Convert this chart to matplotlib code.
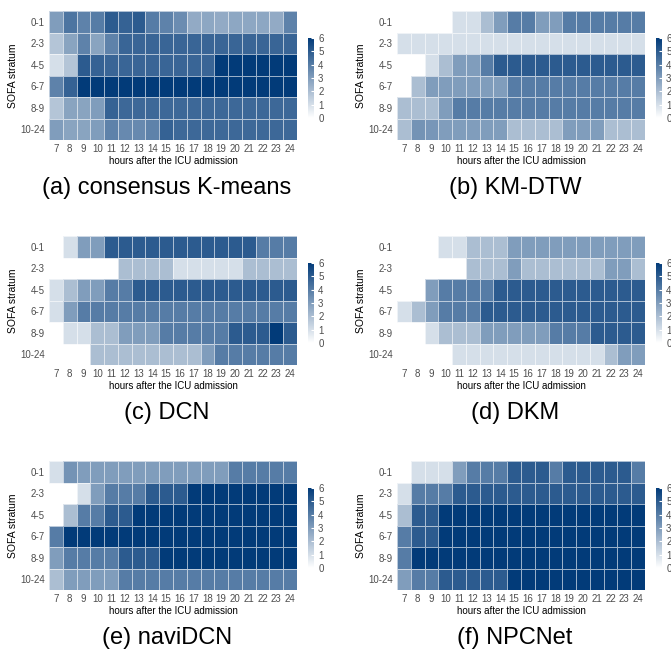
import numpy as np
import matplotlib
matplotlib.use("Agg")
import matplotlib.pyplot as plt
from matplotlib.colors import LinearSegmentedColormap, Normalize
from matplotlib.colorbar import ColorbarBase

plt.rcParams['font.family'] = ['Liberation Sans', 'DejaVu Sans']

hours = list(range(7, 25))
strata = ["0-1", "2-3", "4-5", "6-7", "8-9", "10-24"]
n = np.nan

kmeans = [
    [3.0, 4.2, 3.8, 4.0, 5.0, 4.8, 5.0, 4.0, 3.8, 3.5, 2.6, 2.7, 2.6, 2.7, 2.7, 2.7, 2.6, 3.8],
    [1.8, 2.8, 3.8, 2.8, 3.8, 4.7, 4.7, 4.7, 4.7, 4.7, 4.7, 4.7, 4.7, 4.7, 4.7, 4.7, 4.7, 4.7],
    [1.0, 1.8, 5.0, 4.8, 4.7, 4.7, 4.7, 4.7, 4.7, 4.7, 4.7, 4.7, 6.0, 6.0, 6.0, 6.0, 6.0, 6.0],
    [3.8, 4.8, 6.0, 6.0, 6.0, 6.0, 6.0, 6.0, 6.0, 6.0, 6.0, 6.0, 6.0, 6.0, 6.0, 6.0, 6.0, 6.0],
    [1.8, 2.8, 2.8, 3.0, 4.8, 4.6, 4.6, 4.6, 4.6, 4.6, 4.6, 4.6, 4.6, 4.6, 4.6, 4.6, 4.6, 4.6],
    [3.0, 2.8, 2.8, 3.0, 3.8, 3.6, 3.6, 3.8, 4.8, 4.6, 4.6, 4.6, 4.6, 4.6, 4.6, 4.6, 4.6, 4.6],
]
kmdtw = [
    [n, n, n, n, 1.0, 1.0, 2.0, 3.0, 4.0, 4.0, 3.0, 3.0, 4.0, 4.0, 4.0, 4.0, 4.0, 4.0],
    [1.0, 1.0, 1.0, 1.0, 1.0, 1.0, 1.0, 1.0, 1.0, 1.0, 1.0, 1.0, 1.0, 1.0, 1.0, 1.0, 1.0, 1.0],
    [n, n, 1.0, 2.0, 3.0, 3.0, 4.0, 5.0, 5.0, 5.0, 5.0, 5.0, 5.0, 5.0, 5.0, 5.0, 5.0, 5.0],
    [n, 2.0, 3.0, 3.0, 3.0, 3.0, 3.0, 3.0, 4.0, 4.0, 4.0, 4.0, 4.0, 4.0, 4.0, 4.0, 4.0, 4.0],
    [2.0, 2.0, 2.0, 3.0, 4.0, 4.0, 4.0, 4.0, 4.0, 4.0, 4.0, 4.0, 4.0, 4.0, 4.0, 4.0, 4.0, 4.0],
    [2.0, 3.3, 3.2, 3.0, 3.0, 3.0, 3.0, 3.0, 2.0, 2.0, 2.0, 2.0, 3.0, 3.0, 3.0, 2.0, 2.0, 2.0],
]
dcn = [
    [n, 1.0, 3.0, 3.0, 5.0, 5.0, 5.0, 5.0, 5.0, 5.0, 5.0, 5.0, 5.0, 5.0, 5.0, 4.0, 4.0, 4.0],
    [n, n, n, n, n, 2.0, 2.0, 2.0, 2.0, 1.0, 1.0, 1.0, 1.0, 1.0, 2.0, 2.0, 2.0, 2.0],
    [1.0, 2.0, 3.0, 3.0, 4.0, 4.0, 5.0, 5.0, 5.0, 5.0, 5.0, 5.0, 5.0, 5.0, 5.0, 5.0, 5.0, 5.0],
    [1.0, 3.0, 4.0, 4.0, 4.0, 4.0, 4.0, 4.0, 4.0, 4.0, 4.0, 4.0, 4.0, 4.0, 4.0, 4.0, 4.0, 4.0],
    [n, 1.0, 1.0, 2.0, 2.0, 3.0, 3.0, 3.0, 4.0, 4.0, 4.0, 4.0, 4.0, 5.0, 5.0, 5.0, 6.0, 5.0],
    [n, n, n, 2.0, 2.0, 2.0, 2.0, 2.0, 2.0, 2.0, 2.0, 3.0, 4.0, 4.0, 4.0, 4.0, 4.0, 4.0],
]
dkm = [
    [n, n, n, 1.0, 1.0, 2.0, 2.0, 2.0, 3.0, 3.0, 3.0, 3.0, 3.0, 3.0, 3.0, 3.0, 3.0, 3.0],
    [n, n, n, n, n, 2.0, 2.0, 2.0, 3.0, 2.0, 2.0, 2.0, 2.0, 2.0, 2.0, 3.0, 3.0, 2.0],
    [n, n, 3.0, 4.0, 4.0, 4.0, 4.0, 5.0, 5.0, 5.0, 5.0, 5.0, 5.0, 5.0, 5.0, 5.0, 5.0, 5.0],
    [1.0, 2.0, 3.0, 4.0, 4.0, 4.0, 5.0, 5.0, 5.0, 5.0, 5.0, 5.0, 5.0, 5.0, 5.0, 5.0, 5.0, 5.0],
    [n, n, 1.0, 2.0, 2.0, 2.0, 3.0, 3.0, 3.0, 3.0, 3.0, 4.0, 4.0, 4.0, 5.0, 5.0, 5.0, 5.0],
    [n, n, n, n, 1.0, 1.0, 1.0, 1.0, 1.0, 1.0, 1.0, 1.0, 1.0, 1.0, 1.0, 2.0, 3.0, 3.0],
]
navidcn = [
    [1.0, 3.3, 3.0, 3.0, 3.0, 3.0, 3.0, 3.0, 3.0, 3.0, 3.0, 3.0, 3.0, 4.0, 4.0, 4.0, 4.0, 4.0],
    [n, n, 1.0, 3.0, 4.0, 4.0, 4.0, 5.0, 5.0, 5.0, 6.0, 6.0, 6.0, 6.0, 6.0, 6.0, 6.0, 6.0],
    [n, 2.0, 4.0, 4.0, 5.0, 5.0, 6.0, 6.0, 6.0, 6.0, 6.0, 6.0, 6.0, 6.0, 6.0, 6.0, 6.0, 6.0],
    [4.0, 6.0, 6.0, 6.0, 6.0, 6.0, 6.0, 6.0, 6.0, 6.0, 6.0, 6.0, 6.0, 6.0, 6.0, 6.0, 6.0, 6.0],
    [3.0, 4.0, 4.0, 4.0, 4.0, 5.0, 5.0, 5.0, 6.0, 6.0, 6.0, 6.0, 6.0, 6.0, 6.0, 6.0, 6.0, 6.0],
    [2.0, 3.0, 3.0, 3.0, 3.0, 4.0, 4.0, 4.0, 4.0, 4.0, 4.0, 4.0, 4.0, 4.0, 4.0, 4.0, 4.0, 4.0],
]
npcnet = [
    [n, 1.0, 1.0, 1.0, 3.0, 4.0, 4.0, 4.0, 5.0, 5.0, 5.0, 4.0, 5.0, 5.0, 5.0, 5.0, 5.0, 4.0],
    [1.0, 4.0, 4.0, 4.0, 5.0, 5.0, 5.0, 5.0, 5.0, 5.0, 5.0, 5.0, 5.0, 5.0, 5.0, 5.0, 5.0, 5.0],
    [2.0, 5.0, 5.0, 6.0, 6.0, 6.0, 6.0, 6.0, 6.0, 6.0, 6.0, 6.0, 6.0, 6.0, 6.0, 6.0, 6.0, 6.0],
    [4.0, 5.0, 5.0, 6.0, 6.0, 6.0, 6.0, 6.0, 6.0, 6.0, 6.0, 6.0, 6.0, 6.0, 6.0, 6.0, 6.0, 6.0],
    [4.0, 6.0, 6.0, 6.0, 6.0, 6.0, 6.0, 6.0, 6.0, 6.0, 6.0, 6.0, 6.0, 6.0, 6.0, 6.0, 6.0, 6.0],
    [3.0, 4.0, 4.0, 5.0, 5.0, 5.0, 5.0, 5.0, 6.0, 6.0, 6.0, 6.0, 6.0, 6.0, 6.0, 6.0, 6.0, 6.0],
]

panels = [
    ("(a) consensus K-means", kmeans),
    ("(b) KM-DTW", kmdtw),
    ("(c) DCN", dcn),
    ("(d) DKM", dkm),
    ("(e) naviDCN", navidcn),
    ("(f) NPCNet", npcnet),
]

cmap = LinearSegmentedColormap.from_list("blues", ["#ffffff", "#023b79"])
norm = Normalize(vmin=0, vmax=6)

W, H = 671, 652
fig = plt.figure(figsize=(W / 100, H / 100), dpi=100)

def px_axes(x0, y0, x1, y1):
    return fig.add_axes([x0 / W, 1 - y1 / H, (x1 - x0) / W, (y1 - y0) / H])

grey = "#4d4d4d"
for i, (title, values) in enumerate(panels):
    col, row = i % 2, i // 2
    xoff = 0 if col == 0 else 348
    yoff = row * 225
    ax = px_axes(49 + xoff, 11 + yoff, 297 + xoff, 140 + yoff)
    z = np.ma.masked_invalid(np.array(values, dtype=float))
    ax.pcolormesh(np.arange(len(hours) + 1), np.arange(len(strata) + 1), z,
                  cmap=cmap, norm=norm, edgecolors=(1, 1, 1, 0.6), linewidth=0.5)
    ax.set_xlim(0, len(hours))
    ax.set_ylim(len(strata), 0)
    ax.set_xticks(np.arange(len(hours)) + 0.5)
    ax.set_xticklabels([str(h) for h in hours])
    ax.set_yticks(np.arange(len(strata)) + 0.5)
    ax.set_yticklabels(strata)
    ax.tick_params(length=0, labelsize=7, labelcolor=grey, pad=3)
    for s in ax.spines.values():
        s.set_visible(False)
    ax.set_xlabel("hours after the ICU admission", fontsize=7, labelpad=1.5)
    ax.set_ylabel("SOFA stratum", fontsize=7.5, labelpad=1.5)

    cax = px_axes(308 + xoff, 38 + yoff, 314 + xoff, 118 + yoff)
    cb = ColorbarBase(cax, cmap=cmap, norm=norm, ticks=range(7))
    cb.outline.set_visible(False)
    cax.tick_params(length=2, color="white", direction="in", labelsize=7,
                    labelcolor=grey, pad=3)

    fig.text((49 + 297) / 2 / W + xoff / W - 6 / W, 1 - (188 + yoff) / H, title,
             ha="center", va="center", fontsize=17)

fig.savefig("out.png", dpi=100)
